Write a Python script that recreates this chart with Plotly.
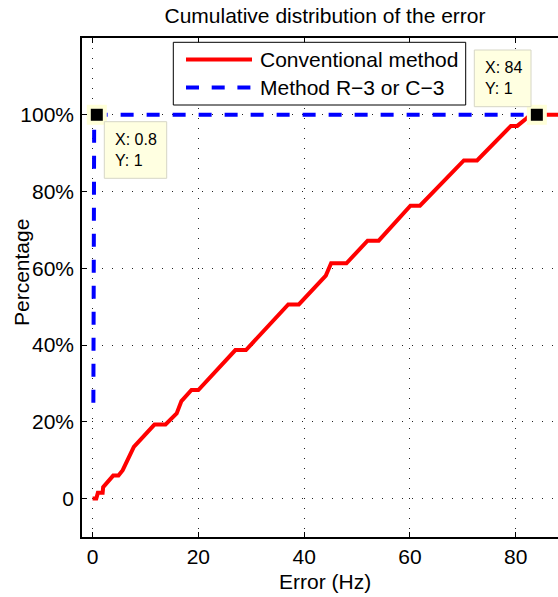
import plotly.graph_objects as go

# ---------------- data ----------------
conv_error = [0.0, 0.7, 1.0, 1.9, 2.0, 3.9, 4.9, 5.7, 7.8, 11.7, 13.8, 15.9, 16.8, 18.7,
              20.0, 27.0, 29.0, 37.0, 39.0, 44.1, 45.1, 48.0, 52.0, 54.1, 60.1, 61.9,
              70.2, 72.7, 79.1, 80.3, 81.9, 82.8, 90.0]
conv_cdf = [0.0, 0.0, 0.015, 0.015, 0.03, 0.06, 0.06, 0.074, 0.135, 0.193, 0.193, 0.222,
            0.254, 0.283, 0.283, 0.387, 0.387, 0.506, 0.506, 0.581, 0.613, 0.613, 0.672,
            0.672, 0.763, 0.763, 0.881, 0.881, 0.971, 0.971, 0.989, 1.0, 1.0]

prop_error = [0.15, 0.3, 0.8, 84.0]
prop_cdf = [0.25, 0.97, 1.0, 1.0]

tip_x = [0.8, 84]
tip_y = [1, 1]

x_ticks = [0, 20, 40, 60, 80]
y_ticks = [0, 0.2, 0.4, 0.6, 0.8, 1.0]
y_ticktext = ["0", "20%", "40%", "60%", "80%", "100%"]

series_names = ["Conventional method", "Method R\u22123 or C\u22123"]
title_text = "Cumulative distribution of the error"
x_title = "Error (Hz)"
y_title = "Percentage"

# ---------------- layout geometry (pixels) ----------------
FW, FH = 558, 597
L, T, B, R = 82, 38, 60, 0
W = FW - L - R
H = FH - T - B
FONT = "Liberation Sans, Arial, Helvetica, sans-serif"


def px(x):
    return (x - L) / W


def py(y):
    return (T + H - y) / H


fig = go.Figure()

fig.add_trace(go.Scatter(
    x=conv_error, y=conv_cdf, mode="lines", name=series_names[0],
    line=dict(color="#ff0000", width=4), showlegend=False, hoverinfo="skip"))

fig.add_trace(go.Scatter(
    x=prop_error, y=prop_cdf, mode="lines", name=series_names[1],
    line=dict(color="#0000ff", width=4, dash="13px,13px"), showlegend=False,
    hoverinfo="skip"))

# data-tip markers (halo + black square)
fig.add_trace(go.Scatter(
    x=tip_x, y=tip_y, mode="markers", showlegend=False, hoverinfo="skip",
    marker=dict(symbol="square", size=20, color="#ffffd8", line=dict(width=0)),
    cliponaxis=False))
fig.add_trace(go.Scatter(
    x=tip_x, y=tip_y, mode="markers", showlegend=False, hoverinfo="skip",
    marker=dict(symbol="square", size=12, color="#000000", line=dict(width=0)),
    cliponaxis=False))

shapes = []
annotations = []

# legend box
shapes.append(dict(type="rect", xref="paper", yref="paper",
                   x0=px(173.3), x1=px(465.7), y0=py(105), y1=py(42.3),
                   fillcolor="white", line=dict(color="black", width=1), layer="above"))
shapes.append(dict(type="line", xref="paper", yref="paper",
                   x0=px(186), x1=px(252), y0=py(59.5), y1=py(59.5),
                   line=dict(color="#ff0000", width=4), layer="above"))
shapes.append(dict(type="line", xref="paper", yref="paper",
                   x0=px(186), x1=px(252), y0=py(87.5), y1=py(87.5),
                   line=dict(color="#0000ff", width=4, dash="13px,12.7px"), layer="above"))
for name, yy in zip(series_names, [59.5, 87.5]):
    annotations.append(dict(text=name, xref="paper", yref="paper", x=px(258), y=py(yy),
                            xanchor="left", yanchor="middle", showarrow=False,
                            font=dict(family=FONT, size=21, color="black")))

# data tip boxes
tip_boxes = [(104.3, 166.7, 121.7, 178.3, 113.3), (474.3, 531.0, 50.0, 106.7, 483.3)]
for (x0, x1, y0, y1, tx), xv, yv in zip(tip_boxes, tip_x, tip_y):
    shapes.append(dict(type="rect", xref="paper", yref="paper",
                       x0=px(x0), x1=px(x1), y0=py(y1), y1=py(y0),
                       fillcolor="#ffffe1", line=dict(color="#d6d6c6", width=1),
                       layer="above"))
    annotations.append(dict(text=f"X: {xv:g}<br>Y: {yv:g}", xref="paper", yref="paper",
                            x=px(tx), y=py((y0 + y1) / 2), xanchor="left",
                            yanchor="middle", align="left", showarrow=False,
                            font=dict(family=FONT, size=16, color="black")))

# axis titles
annotations.append(dict(text=x_title, xref="paper", yref="paper", x=px(325), y=py(581.5),
                        xanchor="center", yanchor="middle", showarrow=False,
                        font=dict(family=FONT, size=21, color="black")))
annotations.append(dict(text=y_title, xref="paper", yref="paper", x=px(21), y=py(273),
                        xanchor="center", yanchor="middle", showarrow=False, textangle=-90,
                        font=dict(family=FONT, size=21, color="black")))

fig.update_layout(
    width=FW, height=FH,
    margin=dict(l=L, r=R, t=T, b=B, pad=0),
    paper_bgcolor="white", plot_bgcolor="white",
    font=dict(family=FONT, size=21, color="black"),
    title=dict(text=title_text, x=325 / FW, xref="container", xanchor="center",
               y=1 - 15.5 / FH, yref="container", yanchor="middle",
               font=dict(family=FONT, size=21, color="black")),
    shapes=shapes, annotations=annotations, showlegend=False,
)

fig.update_xaxes(
    range=[-2, 88], tickvals=x_ticks, ticks="inside", ticklen=5, tickwidth=1,
    tickcolor="black", showline=True, linecolor="black", linewidth=1.5, mirror="ticks",
    showgrid=True, gridcolor="#222222", gridwidth=1, griddash="1px,9px", zeroline=False,
    tickfont=dict(family=FONT, size=21, color="black"))
fig.update_yaxes(
    range=[-0.1, 1.2], tickvals=y_ticks, ticktext=y_ticktext, ticks="inside", ticklen=5,
    tickwidth=1, tickcolor="black", showline=True, linecolor="black", linewidth=1.5,
    mirror=False, showgrid=True, gridcolor="#222222", gridwidth=1, griddash="1px,9px",
    zeroline=False, ticklabelstandoff=2,
    tickfont=dict(family=FONT, size=21, color="black"))

fig.write_html(
    "out.html",
    config={"displayModeBar": False},
    post_script="document.body.style.margin='0';document.body.style.overflow='hidden';",
)
